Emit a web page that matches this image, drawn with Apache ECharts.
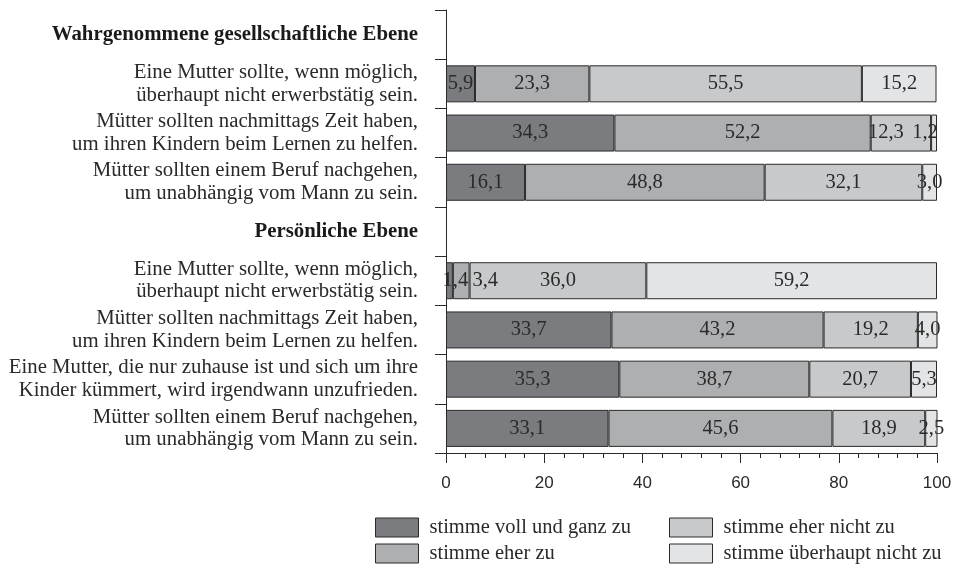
<!DOCTYPE html>
<html>
<head>
<meta charset="utf-8">
<script src="https://cdn.jsdelivr.net/npm/echarts@6/dist/echarts.min.js"></script>
<style>
  html, body { margin: 0; padding: 0; background: #fff; }
  #chart { width: 955px; height: 564px; }
</style>
</head>
<body>
<div id="chart"></div>
<script>
// rows top to bottom; '-' rows are the section headers
const categories = [
  'Wahrgenommene gesellschaftliche Ebene',
  'Eine Mutter sollte, wenn möglich,\nüberhaupt nicht erwerbstätig sein.',
  'Mütter sollten nachmittags Zeit haben,\num ihren Kindern beim Lernen zu helfen.',
  'Mütter sollten einem Beruf nachgehen,\num unabhängig vom Mann zu sein.',
  'Persönliche Ebene',
  'Eine Mutter sollte, wenn möglich,\nüberhaupt nicht erwerbstätig sein.',
  'Mütter sollten nachmittags Zeit haben,\num ihren Kindern beim Lernen zu helfen.',
  'Eine Mutter, die nur zuhause ist und sich um ihre\nKinder kümmert, wird irgendwann unzufrieden.',
  'Mütter sollten einem Beruf nachgehen,\num unabhängig vom Mann zu sein.'
]
const headerRows = [0, 4]

const seriesNames = ['stimme voll und ganz zu', 'stimme eher zu', 'stimme eher nicht zu', 'stimme überhaupt nicht zu']
const vollUndGanz = ['-', 5.9, 34.3, 16.1, '-', 1.4, 33.7, 35.3, 33.1]
const eherZu = ['-', 23.3, 52.2, 48.8, '-', 3.4, 43.2, 38.7, 45.6]
const eherNicht = ['-', 55.5, 12.3, 32.1, '-', 36.0, 19.2, 20.7, 18.9]
const ueberhauptNicht = ['-', 15.2, 1.2, 3.0, '-', 59.2, 4.0, 5.3, 2.5]

const xTicks = [0, 20, 40, 60, 80, 100]

const colors = ['#7b7c80', '#aeafb1', '#c8c9cb', '#e3e4e6']
const serif = "'Liberation Serif', 'Times New Roman', serif"
const sans = "'Liberation Sans', Arial, sans-serif"

// small label shifts where the segments are too narrow
const labelShift = {
  '2-2': -15, '3-2': -9,
  '0-5': 6, '1-5': 24
}

// legend slots: [left, top] per series, two columns filled top-down
const legendPos = [[375, 517], [375, 543], [669, 517], [669, 543]]

const chart = echarts.init(document.getElementById('chart'))

const buildSeries = (values, s) => ({
  name: seriesNames[s],
  type: 'bar',
  stack: 'total',
  barWidth: 37,
  itemStyle: { color: colors[s], borderColor: '#2a2a2a', borderWidth: 1 },
  label: {
    show: true,
    position: 'inside',
    color: '#2a2a2a',
    fontFamily: serif,
    fontSize: 20.5,
    formatter: (p) => p.value.toFixed(1).replace('.', ',')
  },
  data: values.map((v, i) => {
    const dx = labelShift[s + '-' + i]
    if (dx === undefined || v === '-') return v
    return { value: v, label: { offset: [dx, 0] } }
  })
})

const option = {
  animation: false,
  grid: { left: 446, right: 18, top: 10, bottom: 111 },
  xAxis: {
    type: 'value',
    min: 0,
    max: 100,
    interval: 20,
    splitLine: { show: false },
    axisLine: { show: true, lineStyle: { color: '#2a2a2a', width: 1 } },
    axisTick: { show: true, length: 10, lineStyle: { color: '#2a2a2a' } },
    minorTick: { show: true, splitNumber: 5, length: 5, lineStyle: { color: '#2a2a2a' } },
    axisLabel: {
      color: '#2a2a2a',
      fontFamily: sans,
      fontSize: 17,
      margin: 22,
      formatter: (v) => (xTicks.includes(v) ? String(v) : '')
    }
  },
  yAxis: {
    type: 'category',
    inverse: true,
    data: categories,
    axisLine: { show: true, lineStyle: { color: '#2a2a2a', width: 1 } },
    axisTick: { show: true, length: 11, lineStyle: { color: '#2a2a2a' } },
    axisLabel: {
      color: '#2a2a2a',
      fontFamily: serif,
      fontSize: 20.8,
      lineHeight: 22.5,
      margin: 28,
      align: 'right',
      formatter: (v, i) => (headerRows.includes(i) ? '{b|' + v + '}' : v),
      rich: {
        b: { fontWeight: 'bold', fontFamily: serif, fontSize: 20.8, color: '#1a1a1a' }
      }
    }
  },
  legend: seriesNames.map((name, s) => ({
    data: [name],
    left: legendPos[s][0],
    top: legendPos[s][1],
    padding: 0,
    icon: 'rect',
    itemWidth: 43,
    itemHeight: 19,
    itemStyle: { borderColor: '#2a2a2a', borderWidth: 1 },
    textStyle: { fontFamily: serif, fontSize: 20.5, color: '#2a2a2a', padding: [0, 0, 0, 6] }
  })),
  series: [
    buildSeries(vollUndGanz, 0),
    buildSeries(eherZu, 1),
    buildSeries(eherNicht, 2),
    buildSeries(ueberhauptNicht, 3)
  ]
}

chart.setOption(option)
</script>
</body>
</html>
